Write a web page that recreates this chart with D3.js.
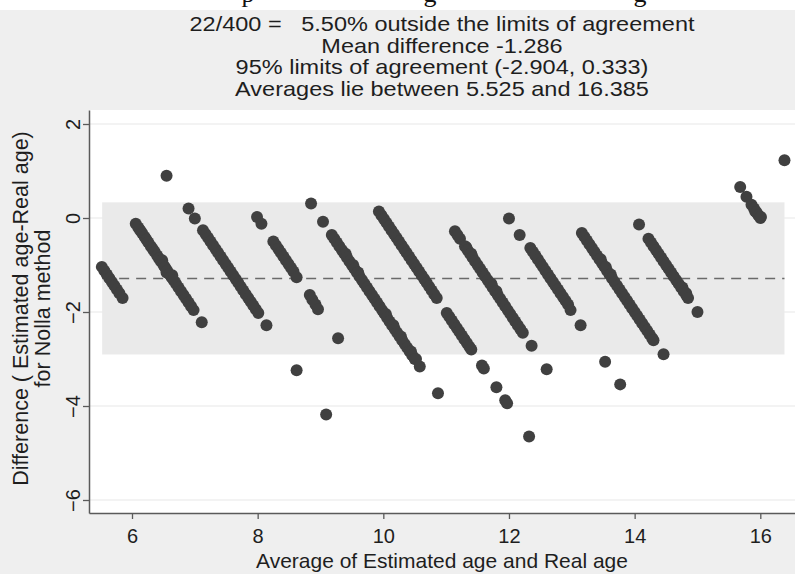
<!DOCTYPE html>
<html>
<head>
<meta charset="utf-8">
<script src="https://cdn.jsdelivr.net/npm/d3@7"></script>
<style>
  html, body { margin: 0; padding: 0; background: #efefef; }
  svg { display: block; }
</style>
</head>
<body>
<div id="chart"></div>
<script>
// Bland-Altman points [average, difference], grouped by estimated age
const est5 = [[5.52,-1.04],[5.56,-1.12],[5.60,-1.20],[5.64,-1.28],[5.68,-1.36],[5.72,-1.44],[5.76,-1.52],[5.80,-1.60],[5.85,-1.70]];
const est6 = [[6.06,-0.12],[6.10,-0.20],[6.13,-0.26],[6.16,-0.32],[6.20,-0.40],[6.23,-0.46],[6.26,-0.52],[6.30,-0.60],
  [6.33,-0.66],[6.36,-0.72],[6.40,-0.80],[6.43,-0.86],[6.46,-0.92],[6.48,-0.90],[6.50,-1.00],[6.53,-1.06],[6.55,-1.16],
  [6.56,-1.12],[6.60,-1.20],[6.63,-1.26],[6.64,-1.22],[6.66,-1.32],[6.70,-1.40],[6.74,-1.48],[6.78,-1.56],[6.82,-1.64],
  [6.86,-1.72],[6.90,-1.80],[6.94,-1.88],[6.98,-1.96],[7.11,-2.22]];
const est7 = [[6.55,0.90],[6.90,0.20],[7.00,-0.01],[7.13,-0.26],[7.17,-0.34],[7.21,-0.42],[7.25,-0.50],[7.29,-0.58],
  [7.33,-0.66],[7.37,-0.74],[7.41,-0.82],[7.45,-0.90],[7.49,-0.98],[7.53,-1.06],[7.57,-1.14],[7.61,-1.22],[7.65,-1.30],
  [7.69,-1.38],[7.73,-1.46],[7.77,-1.54],[7.81,-1.62],[7.85,-1.70],[7.89,-1.78],[7.93,-1.86],[7.97,-1.94],[8.01,-2.02],
  [8.14,-2.28],[8.62,-3.24],[9.09,-4.18]];
const est8 = [[7.99,0.02],[8.06,-0.12],[8.25,-0.50],[8.29,-0.58],[8.33,-0.66],[8.37,-0.74],[8.41,-0.82],[8.45,-0.90],
  [8.49,-0.98],[8.53,-1.06],[8.57,-1.14],[8.62,-1.26],[8.83,-1.64],[8.87,-1.74],[8.92,-1.84],[8.96,-1.94],[9.28,-2.56]];
const est9 = [[8.85,0.31],[9.04,-0.08],[9.18,-0.36],[9.22,-0.44],[9.26,-0.52],[9.30,-0.60],[9.34,-0.68],[9.38,-0.76],
  [9.40,-0.76],[9.42,-0.84],[9.46,-0.92],[9.50,-1.00],[9.52,-1.00],[9.54,-1.08],[9.58,-1.16],[9.60,-1.16],[9.62,-1.24],
  [9.66,-1.32],[9.70,-1.40],[9.74,-1.48],[9.78,-1.56],[9.82,-1.64],[9.86,-1.72],[9.90,-1.80],[9.94,-1.88],[9.98,-1.96],
  [10.02,-2.04],[10.04,-2.04],[10.06,-2.12],[10.10,-2.20],[10.14,-2.28],[10.16,-2.28],[10.18,-2.36],[10.22,-2.44],
  [10.26,-2.52],[10.28,-2.52],[10.30,-2.60],[10.34,-2.68],[10.38,-2.76],[10.42,-2.84],[10.44,-2.84],[10.46,-2.92],
  [10.50,-3.00],[10.52,-3.00],[10.58,-3.16],[10.87,-3.73]];
const est10 = [[9.93,0.14],[9.97,0.06],[10.01,-0.02],[10.05,-0.10],[10.09,-0.18],[10.13,-0.26],[10.17,-0.34],[10.21,-0.42],
  [10.25,-0.50],[10.29,-0.58],[10.33,-0.66],[10.37,-0.74],[10.41,-0.82],[10.45,-0.90],[10.49,-0.98],[10.53,-1.06],
  [10.57,-1.14],[10.61,-1.22],[10.65,-1.30],[10.69,-1.38],[10.73,-1.46],[10.77,-1.54],[10.81,-1.62],[10.85,-1.70],
  [11.01,-2.02],[11.05,-2.10],[11.09,-2.18],[11.13,-2.26],[11.17,-2.34],[11.21,-2.42],[11.25,-2.50],[11.29,-2.58],
  [11.33,-2.66],[11.37,-2.74],[11.40,-2.80],[11.57,-3.14],[11.60,-3.20],[11.80,-3.60],[11.94,-3.88],[11.97,-3.94],
  [12.32,-4.65]];
const est11 = [[11.14,-0.28],[11.18,-0.36],[11.22,-0.44],[11.30,-0.60],[11.32,-0.62],[11.34,-0.68],[11.38,-0.76],
  [11.40,-0.76],[11.42,-0.84],[11.46,-0.92],[11.50,-1.00],[11.54,-1.08],[11.58,-1.16],[11.62,-1.24],[11.66,-1.32],
  [11.70,-1.40],[11.72,-1.40],[11.74,-1.48],[11.78,-1.56],[11.80,-1.56],[11.82,-1.64],[11.86,-1.72],[11.90,-1.80],
  [11.94,-1.88],[11.98,-1.96],[12.02,-2.04],[12.06,-2.12],[12.10,-2.20],[12.14,-2.28],[12.18,-2.36],[12.22,-2.44],
  [12.36,-2.72],[12.60,-3.22]];
const est12 = [[12.00,-0.01],[12.17,-0.36],[12.34,-0.64],[12.38,-0.72],[12.42,-0.80],[12.46,-0.88],[12.50,-0.96],
  [12.54,-1.04],[12.58,-1.12],[12.62,-1.20],[12.66,-1.28],[12.70,-1.36],[12.74,-1.44],[12.78,-1.52],[12.82,-1.60],
  [12.86,-1.68],[12.90,-1.76],[12.94,-1.84],[12.98,-1.96],[13.14,-2.28],[13.53,-3.06],[13.77,-3.54]];
const est13 = [[13.16,-0.32],[13.20,-0.40],[13.24,-0.48],[13.28,-0.56],[13.32,-0.64],[13.36,-0.72],[13.40,-0.80],
  [13.44,-0.88],[13.46,-0.88],[13.48,-0.96],[13.52,-1.04],[13.54,-1.04],[13.56,-1.12],[13.60,-1.20],[13.62,-1.20],
  [13.64,-1.28],[13.68,-1.36],[13.72,-1.44],[13.76,-1.52],[13.80,-1.60],[13.84,-1.68],[13.88,-1.76],[13.92,-1.84],
  [13.96,-1.92],[14.00,-2.00],[14.04,-2.08],[14.08,-2.16],[14.12,-2.24],[14.16,-2.32],[14.20,-2.40],[14.24,-2.48],
  [14.28,-2.56],[14.30,-2.60],[14.46,-2.90]];
const est14 = [[14.07,-0.14],[14.22,-0.44],[14.26,-0.52],[14.30,-0.60],[14.34,-0.68],[14.38,-0.76],[14.42,-0.84],
  [14.46,-0.92],[14.50,-1.00],[14.54,-1.08],[14.58,-1.16],[14.62,-1.24],[14.66,-1.32],[14.70,-1.40],[14.74,-1.48],
  [14.76,-1.48],[14.78,-1.56],[14.82,-1.64],[14.82,-1.60],[14.85,-1.70],[15.00,-2.00]];
const est16 = [[15.68,0.66],[15.78,0.45],[15.86,0.28],[15.90,0.20],[15.92,0.14],[15.94,0.12],[15.97,0.06],[16.00,0.00],[16.01,0.02]];
const est17 = [[16.385,1.23]];

const meanDiff = -1.286;
const limits = [-2.904, 0.333];
const avgRange = [5.525, 16.385];
const xTicks = [6, 8, 10, 12, 14, 16];
const yTicks = [2, 0, -2, -4, -6];
const titleLines = [
  "22/400 =   5.50% outside the limits of agreement",
  "Mean difference -1.286",
  "95% limits of agreement (-2.904, 0.333)",
  "Averages lie between 5.525 and 16.385"
];
const xTitle = "Average of Estimated age and Real age";
const yTitle = ["Difference ( Estimated age-Real age)", "for Nolla method"];

const W = 795, H = 574;
const font = "'Liberation Sans', Arial, Helvetica, sans-serif";
const ink = '#1e1e1e';
const plot = { left: 89, right: 795, top: 110, bottom: 513 };

const svg = d3.select('#chart').append('svg')
  .attr('width', W).attr('height', H)
  .style('font-family', font);

svg.append('rect').attr('width', W).attr('height', H).attr('fill', '#efefef');

// strip of the page above the figure, with the tails of the caption letters
svg.append('rect').attr('width', W).attr('height', 10).attr('fill', '#ffffff');
[['p', 248], ['g', 430], ['g', 640]].forEach(([ch, gx]) => {
  svg.append('text').attr('x', gx).attr('y', 2)
    .attr('font-family', "'Liberation Serif', 'Times New Roman', serif")
    .attr('font-size', 26).attr('text-anchor', 'middle').attr('fill', '#111')
    .text(ch);
});
svg.append('rect').attr('y', 10).attr('width', W).attr('height', 1).attr('fill', '#efefef');

const x = d3.scaleLinear()
  .domain([6 - 43 / 62.83, 6 + 663 / 62.83])
  .range([plot.left, plot.right]);
const y = d3.scaleLinear()
  .domain([(218 - 513) / 47, (218 - 110) / 47])
  .range([plot.bottom, plot.top]);

// plot region
svg.append('rect')
  .attr('x', plot.left).attr('y', plot.top)
  .attr('width', plot.right - plot.left).attr('height', plot.bottom - plot.top)
  .attr('fill', '#ffffff');

// grid lines
svg.append('g').selectAll('line').data(yTicks).join('line')
  .attr('x1', plot.left).attr('x2', plot.right)
  .attr('y1', d => y(d)).attr('y2', d => y(d))
  .attr('stroke', '#e8e8e8').attr('stroke-width', 1.2);

// limits of agreement band
svg.append('rect')
  .attr('x', x(avgRange[0])).attr('y', y(limits[1]))
  .attr('width', x(avgRange[1]) - x(avgRange[0]))
  .attr('height', y(limits[0]) - y(limits[1]))
  .attr('fill', '#eaeaea');

// mean difference
svg.append('line')
  .attr('x1', x(avgRange[0])).attr('x2', x(avgRange[1]))
  .attr('y1', y(meanDiff)).attr('y2', y(meanDiff))
  .attr('stroke', '#6a6a6a').attr('stroke-width', 1.6)
  .attr('stroke-dasharray', '10,7');

// points
const points = [].concat(est5, est6, est7, est8, est9, est10, est11, est12, est13, est14, est16, est17);
svg.append('g').selectAll('circle').data(points).join('circle')
  .attr('cx', d => x(d[0])).attr('cy', d => y(d[1]))
  .attr('r', 6).attr('fill', '#404040');

// axes
const xAxis = d3.axisBottom(x).tickValues(xTicks).tickSize(6).tickSizeOuter(0);
const gx = svg.append('g').attr('transform', `translate(0,${plot.bottom})`).call(xAxis);
gx.select('.domain').attr('stroke', '#5a5a5a').attr('stroke-width', 1.5);
gx.selectAll('.tick line').attr('stroke', '#5a5a5a').attr('stroke-width', 1.3);
gx.selectAll('.tick text').attr('y', 30).attr('dy', 0)
  .attr('font-size', 20).attr('font-family', font).attr('fill', ink);

const yAxis = d3.axisLeft(y).tickValues(yTicks).tickSize(6).tickSizeOuter(0);
const gy = svg.append('g').attr('transform', `translate(${plot.left},0)`).call(yAxis);
gy.select('.domain').attr('stroke', '#5a5a5a').attr('stroke-width', 1.5);
gy.selectAll('.tick line').attr('stroke', '#5a5a5a').attr('stroke-width', 1.3);
gy.selectAll('.tick text')
  .attr('transform', 'rotate(-90)')
  .attr('x', 0).attr('y', -9).attr('dy', 0)
  .attr('text-anchor', 'middle')
  .attr('font-size', 20).attr('font-family', font).attr('fill', ink);

// titles (the source picture is a little wider than tall, so stretch the text)
const cx = (plot.left + plot.right) / 2;
svg.append('g').selectAll('text').data(titleLines).join('text')
  .attr('transform', (d, i) => `translate(${cx},${31 + i * 21.5}) scale(1.12,1)`)
  .attr('text-anchor', 'middle').attr('font-size', 21).attr('fill', ink)
  .style('white-space', 'pre')
  .text(d => d);

svg.append('text')
  .attr('transform', `translate(${cx},568) scale(1.05,1)`)
  .attr('text-anchor', 'middle').attr('font-size', 20).attr('fill', ink)
  .text(xTitle);

svg.append('g').selectAll('text').data(yTitle).join('text')
  .attr('transform', (d, i) => `translate(${28 + i * 22},${(plot.top + plot.bottom) / 2 - 3}) rotate(-90)`)
  .attr('text-anchor', 'middle').attr('font-size', 21.5).attr('fill', ink)
  .text(d => d);
</script>
</body>
</html>
